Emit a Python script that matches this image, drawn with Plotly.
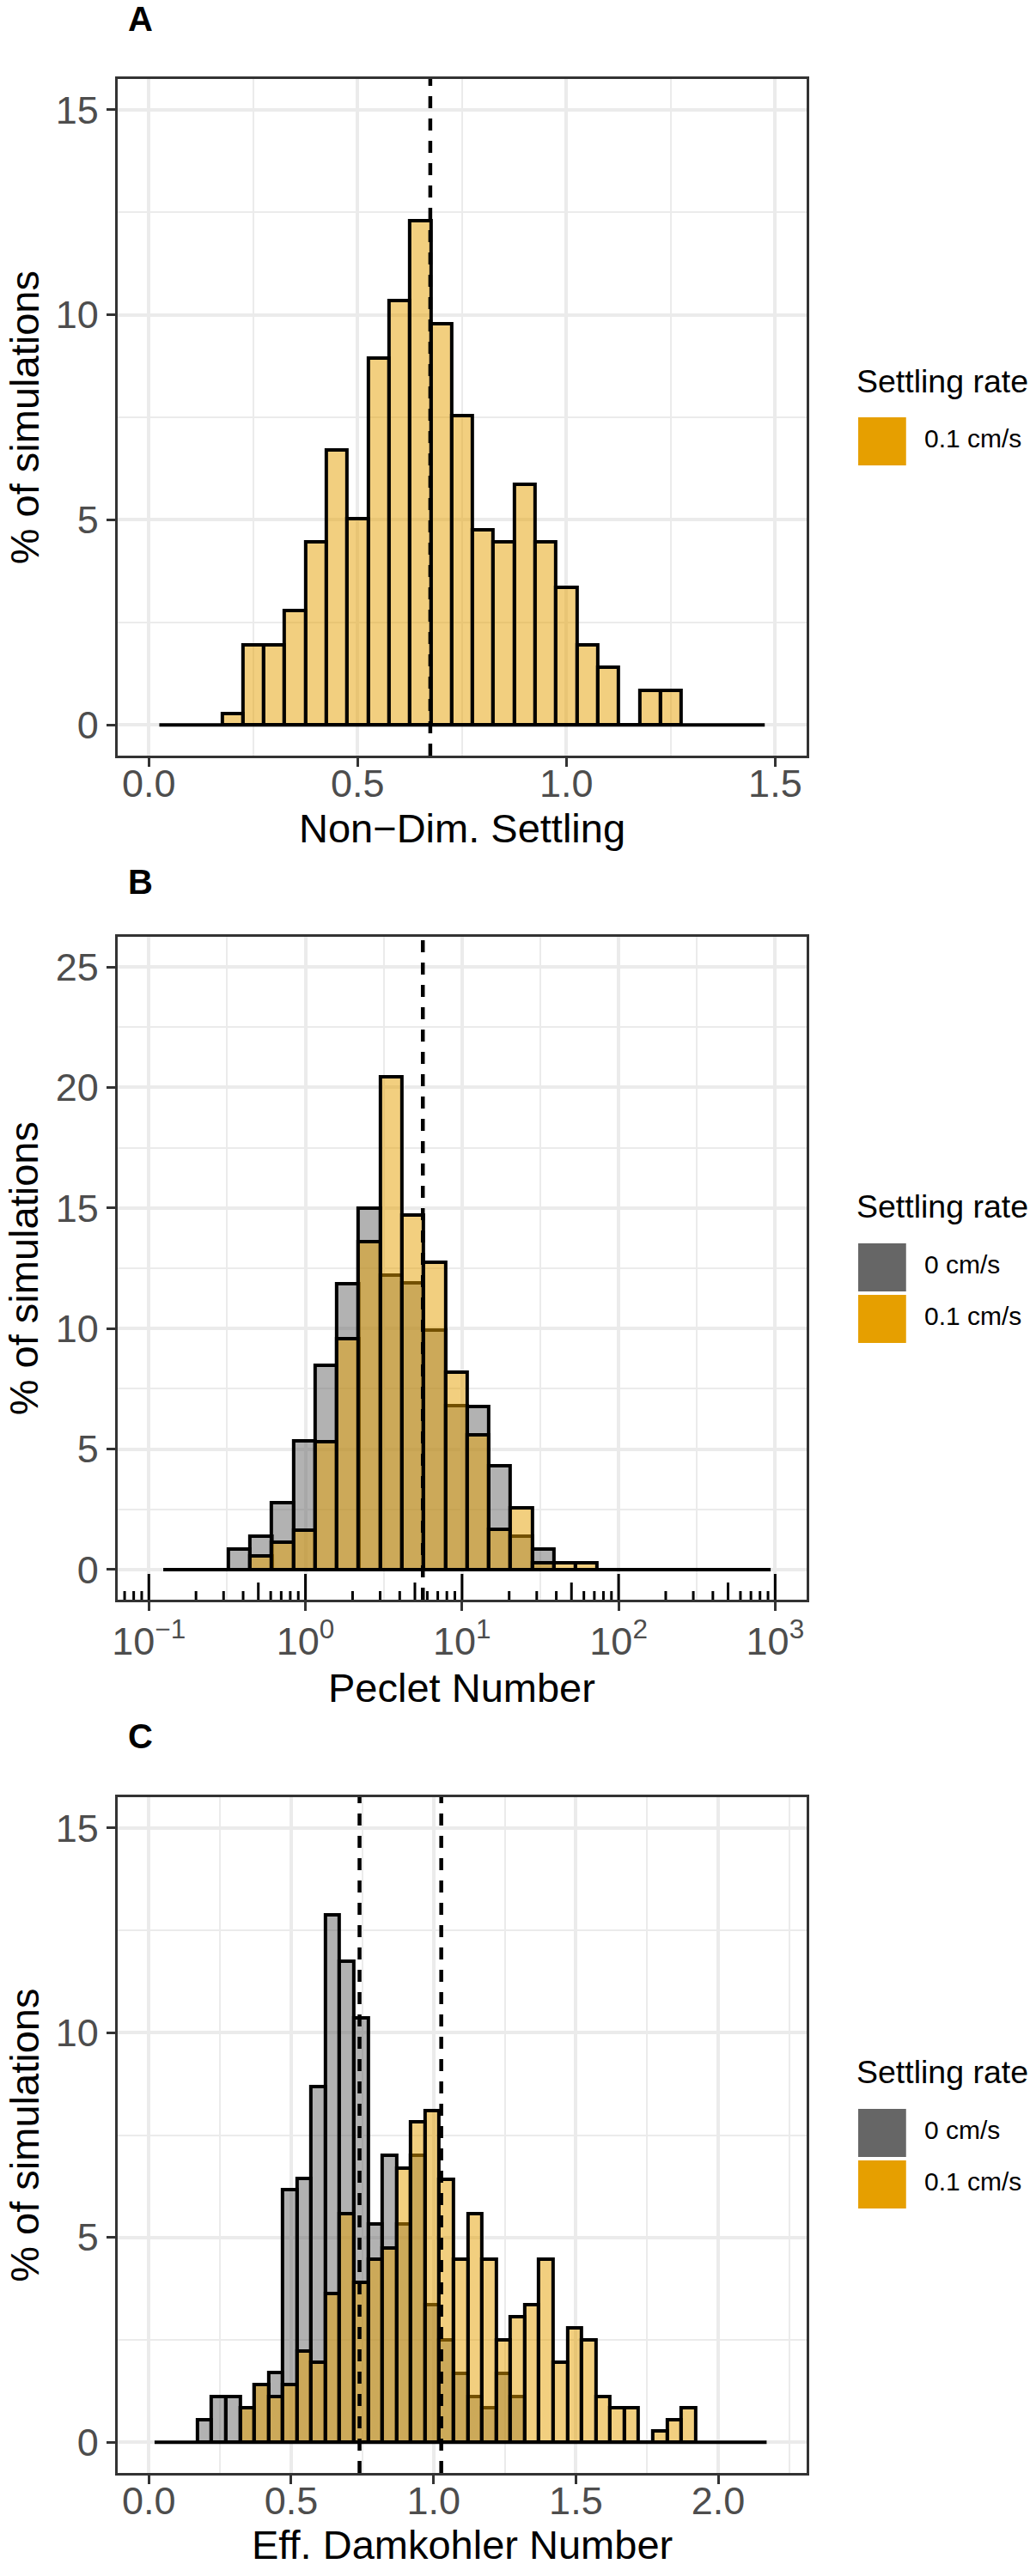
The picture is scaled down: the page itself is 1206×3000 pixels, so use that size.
import numpy as np
import plotly.graph_objects as go

FONT = "Liberation Sans"
GRAY = "rgba(102,102,102,0.5)"
ORANGE = "rgba(230,159,0,0.5)"

# ---- panel A: Non-Dim. Settling, 0.1 cm/s only (bin width 0.05)
a_centers = [0.20, 0.25, 0.30, 0.35, 0.40, 0.45, 0.50, 0.55, 0.60, 0.65, 0.70,
             0.75, 0.80, 0.85, 0.90, 0.95, 1.00, 1.05, 1.10, 1.15, 1.20, 1.25]
a_orange = [0.28, 1.96, 1.96, 2.79, 4.47, 6.70, 5.03, 8.94, 10.34, 12.29, 9.78,
            7.54, 4.75, 4.47, 5.87, 4.47, 3.35, 1.96, 1.40, 0.0, 0.84, 0.84]
a_span = [0.025, 1.475]
a_medians = [0.674]

# ---- panel B: Peclet number, bins in log10 units (width 0.1385)
b_log_centers = [-0.423, -0.284, -0.146, -0.007, 0.131, 0.270, 0.408, 0.547, 0.685,
                 0.824, 0.963, 1.101, 1.240, 1.378, 1.517, 1.655, 1.794]
b_gray = [0.84, 1.40, 2.79, 5.35, 8.46, 11.87, 15.00, 12.20, 11.90,
          9.92, 6.80, 6.78, 4.31, 1.40, 0.84, 0.0, 0.0]
b_orange = [0.0, 0.56, 1.12, 1.62, 5.32, 9.59, 13.60, 20.43, 14.72,
            12.74, 8.18, 5.60, 1.66, 2.56, 0.28, 0.28, 0.28]
b_log_span = [-0.908, 2.971]
b_medians = [5.62]
b_ticks = [0.1, 1, 10, 100, 1000]
b_ticktext = ["10<sup>\u22121</sup>", "10<sup>0</sup>", "10<sup>1</sup>",
              "10<sup>2</sup>", "10<sup>3</sup>"]

# ---- panel C: Eff. Damkohler Number (bin width 0.05)
c_centers = [0.195, 0.245, 0.295, 0.345, 0.395, 0.445, 0.495, 0.545, 0.595, 0.645,
             0.695, 0.745, 0.795, 0.845, 0.895, 0.945, 0.995, 1.045, 1.095, 1.145,
             1.195, 1.245, 1.295, 1.345, 1.395, 1.445, 1.495, 1.545, 1.595, 1.645,
             1.695, 1.745, 1.795, 1.845, 1.895]
c_gray = [0.56, 1.12, 1.12, 0.84, 1.40, 1.71, 6.17, 6.44, 8.69, 12.88,
          11.74, 10.37, 5.32, 7.00, 5.32, 7.00, 3.36, 2.51, 1.68, 1.12,
          0.84, 1.68, 1.12, 0, 0, 0, 0, 0, 0, 0,
          0, 0, 0, 0, 0]
c_orange = [0, 0, 0, 0.84, 1.40, 1.12, 1.40, 2.23, 1.96, 3.63,
            5.59, 3.91, 4.47, 4.75, 6.70, 7.82, 8.10, 6.42, 4.47, 5.59,
            4.47, 2.51, 3.07, 3.35, 4.47, 1.96, 2.79, 2.51, 1.12, 0.84,
            0.84, 0, 0.28, 0.56, 0.84]
c_span = [0.02, 2.17]
c_medians = [0.740, 1.027]

legend_title = "Settling rate"
legend_labels = ["0 cm/s", "0.1 cm/s"]

W, H = 1206, 3000
X0, X1 = 131.5, 937.5
panel_px = {"A": (92, 880), "B": (1091, 1863), "C": (2093, 2880)}


def py(v):
    return 1 - v / H


def px(v):
    return v / W


fig = go.Figure()


def add_hist(xref, yref, centers, width, gray, orange, span):
    if gray is not None:
        fig.add_trace(go.Bar(x=centers, y=gray, width=width, xaxis=xref, yaxis=yref,
                             marker=dict(color=GRAY, line=dict(color="black", width=4)),
                             showlegend=False, hoverinfo="skip"))
    fig.add_trace(go.Bar(x=centers, y=orange, width=width, xaxis=xref, yaxis=yref,
                         marker=dict(color=ORANGE, line=dict(color="black", width=4)),
                         showlegend=False, hoverinfo="skip"))
    fig.add_trace(go.Scatter(x=span, y=[0, 0], mode="lines", xaxis=xref, yaxis=yref,
                             line=dict(color="black", width=4),
                             showlegend=False, hoverinfo="skip"))


add_hist("x", "y", a_centers, 0.05, None, a_orange, a_span)
add_hist("x2", "y2", b_log_centers, 0.1385, b_gray, b_orange, b_log_span)
add_hist("x3", "y3", c_centers, 0.05, c_gray, c_orange, c_span)

tick_font = dict(family=FONT, size=45, color="#4D4D4D")


def axis(dom, rng, tickvals, ticktext, minor_vals, anchor, standoff=0):
    return dict(domain=dom, range=rng, tickmode="array", tickvals=tickvals, ticktext=ticktext,
                ticks="outside", ticklen=10, tickwidth=3, tickcolor="#333333",
                showgrid=True, gridcolor="#EBEBEB", gridwidth=3.5, zeroline=False,
                showline=True, linecolor="#333333", linewidth=3, mirror=True,
                tickfont=tick_font, anchor=anchor, fixedrange=True,
                ticklabelstandoff=standoff,
                minor=dict(tickmode="array", tickvals=minor_vals, showgrid=True,
                           gridcolor="#EBEBEB", gridwidth=2, ticks=""))


xdom = [px(X0), px(X1)]


def ydom(k):
    t, b = panel_px[k]
    return [py(b), py(t)]


b_tick_logs = [float(np.log10(v)) for v in b_ticks]

fig.update_layout(
    width=W, height=H, margin=dict(l=0, r=0, t=0, b=0),
    paper_bgcolor="white", plot_bgcolor="white", barmode="overlay", bargap=0,
    showlegend=False, font=dict(family=FONT),
    xaxis=axis(xdom, [-0.075, 1.575], [0, 0.5, 1.0, 1.5], ["0.0", "0.5", "1.0", "1.5"],
               [0.25, 0.75, 1.25], "y", -19),
    yaxis=axis(ydom("A"), [-0.75, 15.75], [0, 5, 10, 15], ["0", "5", "10", "15"],
               [2.5, 7.5, 12.5], "x"),
    xaxis2=axis(xdom, [-1.2, 3.2], b_tick_logs, b_ticktext, [-0.5, 0.5, 1.5, 2.5], "y2", -3),
    yaxis2=axis(ydom("B"), [-1.25, 26.25], [0, 5, 10, 15, 20, 25],
                ["0", "5", "10", "15", "20", "25"], [2.5, 7.5, 12.5, 17.5, 22.5], "x2"),
    xaxis3=axis(xdom, [-0.11, 2.31], [0, 0.5, 1.0, 1.5, 2.0], ["0.0", "0.5", "1.0", "1.5", "2.0"],
                [0.25, 0.75, 1.25, 1.75, 2.25], "y3", -19),
    yaxis3=axis(ydom("C"), [-0.75, 15.75], [0, 5, 10, 15], ["0", "5", "10", "15"],
                [2.5, 7.5, 12.5], "x3"),
)

# dashed median lines
for xr, meds in (("x", a_medians), ("x2", [float(np.log10(m)) for m in b_medians]), ("x3", c_medians)):
    yr = "y" + xr[1:]
    for m in meds:
        fig.add_shape(type="line", xref=xr, yref=yr + " domain", x0=m, x1=m, y0=0, y1=1,
                      line=dict(color="black", width=4.5, dash="14px,12px"), layer="above")

# log ticks along the bottom of panel B
plot_h_b = panel_px["B"][1] - panel_px["B"][0]
for d in range(-2, 4):
    for k in range(1, 10):
        lv = d + np.log10(k)
        if lv < -1.2 or lv > 3.2:
            continue
        ln = 30 if k == 1 else (20 if k == 5 else 10)
        fig.add_shape(type="line", xref="x2", yref="y2 domain", x0=lv, x1=lv,
                      y0=0, y1=ln / plot_h_b, line=dict(color="black", width=3), layer="above")

SHIFT = 0.12  # cap-centre correction for annotations (em)


def label(text, x, ycap, size, **kw):
    d = dict(text=text, x=px(x), y=py(ycap - SHIFT * size), xref="paper", yref="paper",
             yanchor="middle", showarrow=False, font=dict(family=FONT, size=size, color="black"))
    d.update(kw)
    return d


ann = []
xc = (X0 + X1) / 2
titles = {"A": "Non\u2212Dim. Settling", "B": "Peclet Number", "C": "Eff. Damkohler Number"}
title_cap = {"A": 970, "B": 1971, "C": 2969}
tag_y = {"A": 27, "B": 1032, "C": 2027}
for k, (t, b) in panel_px.items():
    ann.append(label(titles[k], xc, title_cap[k], 47, xanchor="center"))
    ann.append(dict(text="% of simulations", x=px(28 - SHIFT * 47), y=py((t + b) / 2),
                    xref="paper", yref="paper", xanchor="center", yanchor="middle",
                    textangle=-90, showarrow=False,
                    font=dict(family=FONT, size=47, color="black")))
    ann.append(label("<b>%s</b>" % k, 142, tag_y[k], 40, xanchor="left"))

# legends drawn by hand (large square keys)
key_x0, key_x1, lab_x = 998, 1054, 1075
legends = {
    "A": (448, [("#E69F00", 486, legend_labels[1])]),
    "B": (1409.5, [("#666666", 1448, legend_labels[0]), ("#E69F00", 1508, legend_labels[1])]),
    "C": (2417, [("#666666", 2456, legend_labels[0]), ("#E69F00", 2516, legend_labels[1])]),
}
for k, (ty, keys) in legends.items():
    ann.append(label(legend_title, key_x0 - 4, ty, 37.5, xanchor="left"))
    for col, top, lab in keys:
        fig.add_shape(type="rect", xref="paper", yref="paper", x0=px(key_x0), x1=px(key_x1),
                      y0=py(top + 56), y1=py(top), fillcolor=col, line=dict(width=0))
        ann.append(label(lab, lab_x - 2, top + 28, 30, xanchor="left"))

fig.update_layout(annotations=ann)

# the page's default 8px body margin would push the figure off the window
fig.write_html("out.html", config={"displayModeBar": False},
               post_script="document.body.style.margin='0';")
